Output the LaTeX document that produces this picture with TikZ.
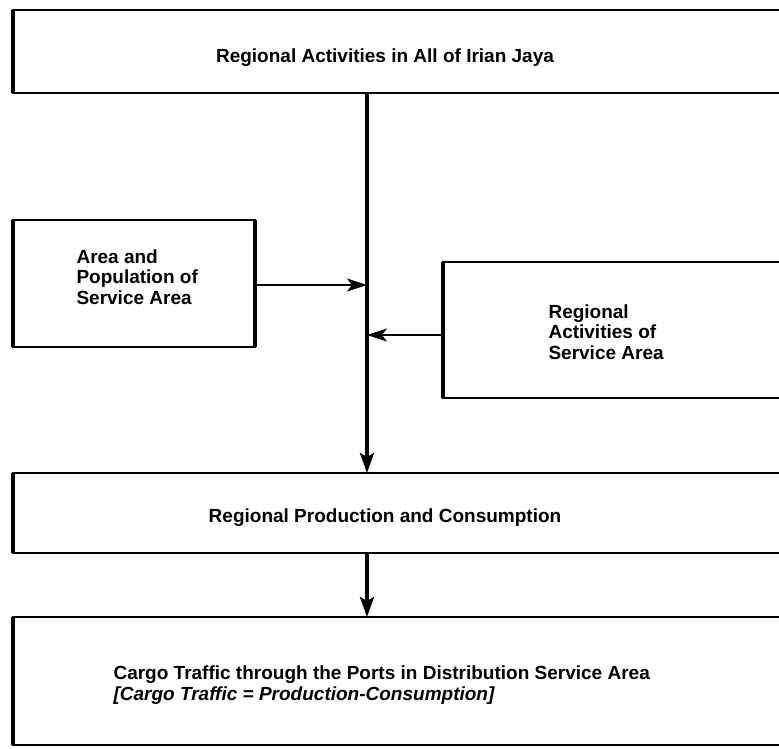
\documentclass[tikz,border=0pt]{standalone}
\usepackage{fontspec}
\setmainfont{Liberation Sans}
\usetikzlibrary{arrows.meta}
\begin{document}
\begin{tikzpicture}[x=1pt, y=-1pt,
        every node/.style={font=\fontsize{19}{20.5}\selectfont\bfseries},
        box/.style={draw, line width=1.6pt, anchor=north west, inner sep=0pt, outer sep=0pt},
        side/.style={line width=3.6pt},
        flow/.style={line width=3.6pt, -{Stealth[length=20pt,width=14pt,inset=4pt]}},
        feed/.style={line width=1.2pt, -{Stealth[length=20pt,width=13pt,inset=5pt]}}]
            \useasboundingbox (0,0) rectangle (779,748);
            \node[box, minimum width=820pt, minimum height=83pt] (top) at (13,10) {};
            \node[box, minimum width=242pt, minimum height=127pt] (area) at (13,220) {};
            \node[box, minimum width=400pt, minimum height=136pt] (activ) at (443,262) {};
            \node[box, minimum width=820pt, minimum height=80pt] (prod) at (13,473) {};
            \node[box, minimum width=820pt, minimum height=128pt] (cargo) at (13,617) {};
            \node (topText) at (385,58) {Regional Activities in All of Irian Jaya};
            \node[align=left, anchor=west] (areaText) at (73,277) {Area and\\Population of\\Service Area};
            \node[align=left, anchor=west] (activText) at (545,332) {Regional\\Activities of\\Service Area};
            \node (prodText) at (385,518) {Regional Production and Consumption};
            \node[align=left, anchor=west] (cargoText) at (110,685) {Cargo Traffic through the Ports in Distribution Service Area\\\textit{[Cargo Traffic = Production-Consumption]}};
            \coordinate (inL) at (367,285);
            \coordinate (inR) at (367,335);
            \draw[side] (top.north west) -- (top.south west);
            \draw[side] (area.north west) -- (area.south west);
            \draw[side] (area.north east) -- (area.south east);
            \draw[side] (activ.north west) -- (activ.south west);
            \draw[side] (prod.north west) -- (prod.south west);
            \draw[side] (cargo.north west) -- (cargo.south west);
            \draw[flow] (top.south -| inL) -- (prod.north -| inL);
            \draw[flow] (prod.south -| inL) -- (cargo.north -| inL);
            \draw[feed] (area.east |- inL) -- (inL);
            \draw[feed] (activ.west |- inR) -- (inR);
        \end{tikzpicture}
\end{document}
